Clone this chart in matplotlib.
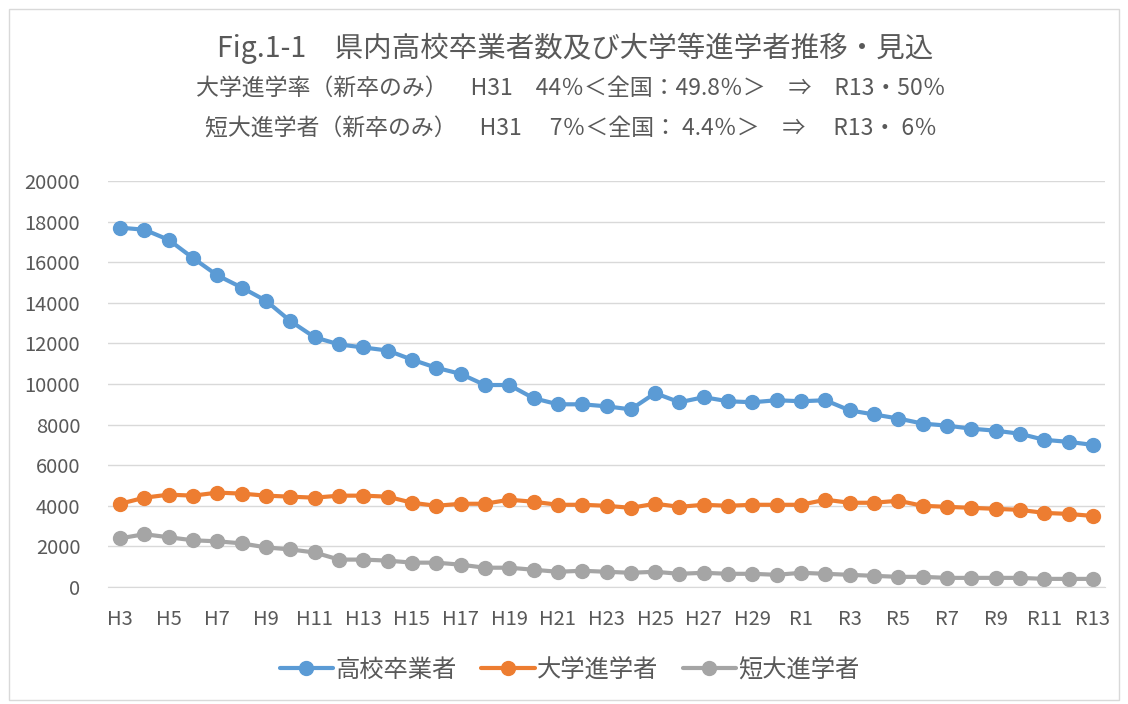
import matplotlib
matplotlib.use('Agg')
import matplotlib.pyplot as plt
from matplotlib.patches import Rectangle

plt.rcParams['font.family'] = ['Noto Sans CJK JP', 'DejaVu Sans']

years = ['H%d' % i for i in range(3, 31)] + ['R%d' % i for i in range(1, 14)]

koukou = [17700, 17600, 17100, 16200, 15350, 14750, 14100, 13100, 12300, 11950,
          11800, 11650, 11200, 10800, 10500, 9950, 9950, 9300, 9000, 9000,
          8900, 8750, 9550, 9100, 9350, 9150, 9100, 9200, 9150, 9200,
          8700, 8500, 8300, 8050, 7950, 7800, 7700, 7550, 7250, 7150, 7000]
daigaku = [4100, 4400, 4550, 4500, 4650, 4600, 4500, 4450, 4400, 4500,
           4500, 4450, 4150, 4000, 4100, 4100, 4300, 4200, 4050, 4050,
           4000, 3900, 4100, 3950, 4050, 4000, 4050, 4050, 4050, 4300,
           4150, 4150, 4250, 4000, 3950, 3900, 3850, 3800, 3650, 3600, 3500]
tandai = [2400, 2600, 2450, 2300, 2250, 2150, 1950, 1850, 1700, 1350,
          1350, 1300, 1200, 1200, 1100, 950, 950, 850, 750, 800,
          750, 700, 750, 650, 700, 650, 650, 600, 700, 650,
          600, 550, 500, 500, 450, 450, 450, 450, 400, 400, 400]

series_names = ['高校卒業者', '大学進学者', '短大進学者']
colors = ['#5b9bd5', '#ed7d31', '#a5a5a5']
txt = '#595959'

fig = plt.figure(figsize=(11.28, 7.04), dpi=100)
fig.patches.append(Rectangle((0.008, 0.005), 0.984, 0.982, transform=fig.transFigure,
                             fill=False, edgecolor='#d9d9d9', linewidth=1))

ax = fig.add_axes([108 / 1128, 1 - 587 / 704, (1105 - 108) / 1128, (587 - 181) / 704])

x = list(range(len(years)))
for vals, name, c in zip([koukou, daigaku, tandai], series_names, colors):
    ax.plot(x, vals, color=c, linewidth=3, marker='o', markersize=10, label=name,
            solid_capstyle='round')

ax.set_xlim(-0.5, len(years) - 0.5)
ax.set_ylim(0, 20000)
ax.set_yticks(range(0, 20001, 2000))
ax.set_xticks(x[::2])
ax.set_xticklabels(years[::2])
ax.tick_params(axis='both', length=0, labelsize=14.5, colors=txt)
ax.tick_params(axis='x', pad=16)
ax.tick_params(axis='y', pad=20)
ax.grid(axis='y', color='#d9d9d9', linewidth=1)
ax.set_axisbelow(True)
for s in ['top', 'right', 'left']:
    ax.spines[s].set_visible(False)
ax.spines['bottom'].set_color('#d9d9d9')

ax.legend(loc='center', bbox_to_anchor=(0.505, (704 - 670) / 704), bbox_transform=fig.transFigure,
          ncol=3, frameon=False, fontsize=17.5, labelcolor=txt, handlelength=2.2,
          columnspacing=1.0, handletextpad=0.1)

fig.text(0.51, 1 - 48 / 704, 'Fig.1-1　県内高校卒業者数及び大学等進学者推移・見込',
         ha='center', va='center', fontsize=20.5, color=txt)
fig.text(0.506, 1 - 88 / 704, '大学進学率（新卒のみ）　H31　44％＜全国：49.8％＞　⇒　R13・50％',
         ha='center', va='center', fontsize=16.5, color=txt)
fig.text(0.506, 1 - 129 / 704, '短大進学者（新卒のみ）　H31　 7％＜全国： 4.4％＞　⇒　 R13・ 6％',
         ha='center', va='center', fontsize=16.5, color=txt)

fig.savefig('out.png', dpi=100)
